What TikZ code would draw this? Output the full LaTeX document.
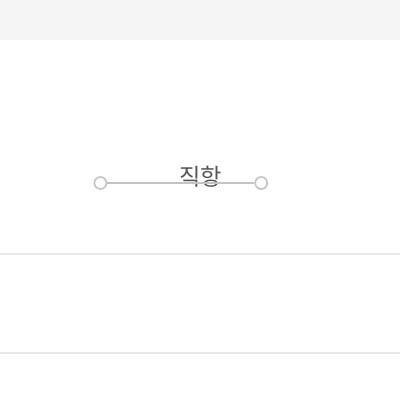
\documentclass[tikz,border=0pt]{standalone}
\usepackage{fontspec}
\newfontfamily\cjk{Noto Sans CJK KR}
\definecolor{bandgray}{HTML}{F5F5F5}
\definecolor{rulegray}{HTML}{E8E8E8}
\definecolor{dotgray}{HTML}{C4C4C4}
\definecolor{textgray}{HTML}{555555}
\begin{document}
\begin{tikzpicture}
        \useasboundingbox (0,0) rectangle (10,10);
        \fill[bandgray] (0,9) rectangle (10,10);
        \draw[rulegray, line width=0.8pt] (0,3.65) -- (10,3.65);
        \draw[rulegray, line width=0.8pt] (0,1.175) -- (10,1.175);

        \node[circle, draw=dotgray, fill=white, line width=1.2pt, minimum size=0.3cm, inner sep=0pt] (start) at (2.51,5.425) {};
        \node[circle, draw=dotgray, fill=white, line width=1.2pt, minimum size=0.3cm, inner sep=0pt] (end) at (6.53,5.425) {};
        \node[text=textgray, font=\cjk\fontsize{16.5}{19}\selectfont, inner sep=0pt] (label) at (5.02,5.58) {직항};

        \draw[dotgray, line width=1pt] (start.east) -- (end.west);

    \end{tikzpicture}
\end{document}
